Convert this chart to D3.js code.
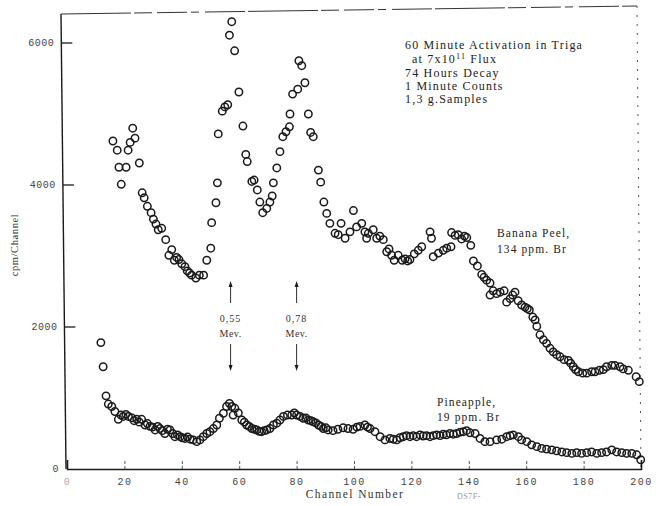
<!DOCTYPE html>
<html>
<head>
<meta charset="utf-8">
<script src="https://cdn.jsdelivr.net/npm/d3@7"></script>
<style>
  body { margin: 0; background: #fff; }
  text { font-family: "Liberation Serif", "DejaVu Serif", serif; }
</style>
</head>
<body>
<svg id="chart" width="656" height="506"></svg>
<script>
// Gamma spectra, 1 minute counts per channel
const bananaChannel = [
  16, 17.5, 18.1, 18.9, 20.6, 21.3, 22, 22.9, 23.7, 25.2, 26.2, 26.9, 28, 29.3, 30.1, 31, 31.8, 33,
  34.4, 35.5, 36.5, 37.4, 38.2, 39, 40, 41.1, 41.9, 42.7, 43.4, 44.9, 46.1, 47.6, 48.7, 50.1, 50.4,
  51.9, 52.4, 52.7, 54.1, 55, 56, 56.6, 57.4, 58.4, 59.9, 61.3, 62.3, 62.8, 64.4, 65.2, 66.3, 67.2,
  68.2, 69.6, 70.7, 71.5, 71.9, 73.1, 74.2, 75.2, 76.3, 77.5, 77.7, 78.6, 80.4, 80.8, 81.8, 82.9,
  84.1, 84.9, 85.8, 87.6, 88.4, 89.5, 90.5, 91.6, 93.4, 94.5, 95.5, 96.9, 98.6, 99.8, 100.9, 102.7,
  103.8, 104.4, 105, 106.7, 107.9, 109, 110.2, 111.4, 112.2, 113.1, 114, 115.4, 116.8, 117.8, 118.7,
  119.5, 121, 122.4, 123.6, 126.5, 127, 127.6, 129.4, 131.1, 132.3, 133.8, 134, 135.2, 136.3, 137.5,
  138.5, 139.3, 140.7, 141.6, 143, 144.5, 145.3, 146.2, 147.4, 147.4, 148.5, 149.7, 150.9, 152.3,
  153.2, 154.4, 155.3, 156.1, 157.2, 158.4, 159.6, 160.4, 161.1, 162.3, 163.1, 163.7, 164.8, 166,
  167.1, 168.3, 169.4, 170.6, 171.8, 173.2, 174.7, 175.5, 176.4, 177.2, 178.2, 179.7, 181.1, 182.8,
  184, 185.5, 186.9, 188, 189.8, 190.9, 192.7, 193.8, 195.6, 198.3, 199.4
];
const bananaCounts = [
  4620, 4490, 4250, 4010, 4250, 4490, 4600, 4800, 4660, 4310, 3890, 3820, 3700, 3610, 3520, 3450, 3370, 3390,
  3230, 3010, 3090, 2940, 2980, 2950, 2890, 2850, 2790, 2760, 2730, 2690, 2730, 2730, 2940, 3110, 3470,
  3750, 4030, 4720, 5040, 5100, 5130, 6110, 6300, 5890, 5310, 4830, 4430, 4330, 4050, 4070, 3930, 3760,
  3610, 3670, 3760, 3845, 4030, 4240, 4470, 4680, 4750, 4820, 5000, 5280, 5350, 5750, 5680, 5440,
  5000, 4740, 4680, 4210, 4040, 3760, 3600, 3460, 3320, 3300, 3460, 3250, 3340, 3640, 3410, 3460,
  3340, 3250, 3320, 3370, 3250, 3280, 3230, 3060, 3100, 3010, 2940, 3010, 2940, 2960, 2930,
  2950, 3030, 3080, 3130, 3340, 3250, 2990, 3040, 3080, 3110, 3130, 3330, 3290, 3300, 3240,
  3280, 3260, 3150, 2930, 2860, 2740, 2700, 2660, 2620, 2450, 2510, 2470, 2490, 2510,
  2350, 2400, 2450, 2490, 2370, 2310, 2280, 2260, 2240, 2140, 2100, 2010, 1890, 1820,
  1770, 1700, 1650, 1610, 1580, 1540, 1530, 1490, 1440, 1400, 1370, 1350, 1350, 1370,
  1370, 1390, 1400, 1440, 1460, 1460, 1440, 1410, 1390, 1300, 1230
];
const pineappleChannel = [
  11.8, 12.6, 13.6, 14.4, 15.6, 16.7, 17.9, 18.8, 19.6, 20.5, 21.4, 22.6, 23.4, 24.3, 25.2, 26, 27.2,
  28, 28.9, 29.8, 30.7, 31.6, 32.4, 33.2, 34.1, 35, 35.9, 36.8, 37.6, 38.5, 39.4, 40.2, 41.1, 42,
  42.9, 44, 45.2, 46.3, 47.5, 48.7, 49.8, 51, 52.2, 53.1, 54.5, 55.6, 56.6, 57.4, 57.9, 58.5, 59.7,
  60.9, 61.8, 62.6, 63.5, 64.4, 65.3, 66.1, 67, 67.8, 68.7, 69.6, 70.7, 71.9, 73.1, 74.2, 75.4, 76.8,
  78.3, 79.2, 80, 81.2, 82.3, 83.2, 84.1, 85, 85.8, 86.7, 87.6, 88.5, 89.3, 90.2, 91, 92.7, 94.4,
  96.2, 97.9, 99.7, 101, 102.1, 103.8, 104.7, 105.6, 107.3, 109.1, 110.8, 112.5, 113.7, 114.9,
  116, 117.2, 118.3, 119.5, 120.6, 121.8, 123, 124.1, 125.3, 126.5, 127.6, 128.8, 130, 131.1, 132.2,
  133.4, 134.6, 135.8, 137, 138.1, 139.2, 140.4, 142.2, 143.9, 145.6, 147.4, 149.7, 151.5, 153.2,
  154.4, 155.5, 157.3, 158.4, 160.2, 161.9, 163.7, 165.4, 167.1, 168.9, 170.6, 172.4, 174.1, 175.9,
  177.6, 179.3, 181.1, 182.8, 184.6, 186.3, 188, 189.8, 191.5, 193.3, 195, 196.8, 198.5, 199.9
];
const pineappleCounts = [
  1780, 1440, 1030, 915, 880, 810, 700, 760, 740, 770, 740, 720, 680, 700, 660, 700, 620,
  640, 600, 590, 550, 600, 570, 540, 500, 560, 550, 500, 455, 480, 455, 440, 430, 450,
  420, 410, 385, 410, 455, 500, 525, 570, 620, 715, 785, 880, 925, 880, 760, 855, 790,
  690, 660, 620, 600, 570, 560, 550, 530, 525, 540, 550, 570, 620, 645, 690, 740, 760,
  760, 790, 760, 740, 715, 720, 690, 680, 665, 650, 620, 600, 570, 580, 550, 540, 560,
  580, 570, 560, 590, 600, 620, 590, 570, 525, 455, 410, 430, 420, 410,
  440, 455, 470, 455, 470, 455, 480, 465, 470, 455, 470, 480, 470, 490, 480,
  500, 490, 500, 520, 525, 540, 510, 500, 430, 385, 385, 410, 420, 455,
  470, 480, 455, 410, 385, 340, 315, 290, 280, 270, 255, 240, 230, 220,
  230, 220, 230, 240, 220, 230, 240, 270, 240, 230, 220, 220, 200, 130
];

const xTicks = [0, 20, 40, 60, 80, 100, 120, 140, 160, 180, 200];
const yTicks = [0, 2000, 4000, 6000];
const noteLines = ["60 Minute Activation in Triga", "at 7x10", "74 Hours Decay", "1 Minute Counts", "1,3 g.Samples"];
const peakChannels = [57, 80];
const peakEnergies = ["0,55", "0,78"];
const seriesLabels = [["Banana Peel,", "134 ppm. Br"], ["Pineapple,", "19 ppm. Br"]];

const svg = d3.select("#chart");
const x = d3.scaleLinear().domain([0, 200]).range([67, 641]);
const y = d3.scaleLinear().domain([0, 6000]).range([469, 43]);
const ink = "#1a1a1a";

// the drawn frame leans slightly: left edge drifts left toward the top
const lean = py => -5 * (y(0) - py) / (y(0) - 14);

// plot frame: dashed top and right edges, solid left edge
svg.append("line")
  .attr("x1", x(0) - 1 + lean(14)).attr("x2", x(200) - 4)
  .attr("y1", 14).attr("y2", 6)
  .attr("stroke", "#333").attr("stroke-width", 1)
  .attr("stroke-dasharray", "70,3,18,5,30,4,8,6,40,3");
svg.append("line")
  .attr("x1", x(200) - 4).attr("x2", x(200))
  .attr("y1", 6).attr("y2", y(0))
  .attr("stroke", "#555").attr("stroke-width", 1)
  .attr("stroke-dasharray", "2,7");
svg.append("line")
  .attr("x1", x(0) - 1).attr("x2", x(0) - 1 + lean(14))
  .attr("y1", y(0)).attr("y2", 14)
  .attr("stroke", ink).attr("stroke-width", 1.4);

// x axis
const xAxis = svg.append("g")
  .attr("transform", `translate(0,${y(0)})`)
  .call(d3.axisBottom(x).tickValues(xTicks).tickSize(-9).tickPadding(9).tickFormat(d3.format("d")));
xAxis.select(".domain").attr("stroke", ink).attr("stroke-width", 1.6);
xAxis.selectAll(".tick line")
  .attr("stroke", "#555").attr("stroke-dasharray", "3,2")
  .filter(d => d === 0 || d === 200).remove();
xAxis.selectAll(".tick text")
  .attr("fill", "#444").style("font-family", "Liberation Mono, monospace")
  .style("font-size", "10px").style("letter-spacing", "1.5px")
  .attr("opacity", d => d === 0 ? 0.45 : 1);

// y axis
const yAxis = svg.append("g")
  .attr("transform", `translate(${x(0) - 1},0)`)
  .call(d3.axisLeft(y).tickValues(yTicks).tickSize(-11).tickPadding(7).tickFormat(d3.format("d")));
yAxis.select(".domain").remove();
yAxis.selectAll(".tick").attr("transform", d => `translate(${lean(y(d))},${y(d)})`);
yAxis.selectAll(".tick line").attr("stroke", ink).attr("stroke-width", 1.3)
  .filter(d => d === 0).remove();
yAxis.selectAll(".tick text")
  .attr("fill", "#444").style("font-family", "Liberation Mono, monospace")
  .style("font-size", "10px").style("letter-spacing", "0.5px");

// axis titles
svg.append("text")
  .attr("transform", `translate(18,245) rotate(-90)`)
  .attr("text-anchor", "middle").attr("fill", "#333")
  .style("font-size", "10.5px").style("letter-spacing", "0.6px")
  .text("cpm/Channel");
svg.append("text")
  .attr("x", 355).attr("y", 498).attr("text-anchor", "middle").attr("fill", "#333")
  .style("font-size", "11.5px").style("letter-spacing", "1.4px")
  .text("Channel Number");
svg.append("text")
  .attr("x", 457).attr("y", 499).attr("fill", "#999")
  .style("font-size", "8px").style("letter-spacing", "0.5px")
  .text("DS7F-");

// run conditions
const notes = svg.append("g").attr("fill", "#222")
  .style("font-size", "12px").style("letter-spacing", "1.2px");
const noteX = [405, 412, 405, 405, 405];
const noteY = [49, 63, 77, 90, 103];
noteLines.forEach((t, i) => {
  const tx = notes.append("text").attr("x", noteX[i]).attr("y", noteY[i]);
  if (i === 1) {
    tx.append("tspan").text(t);
    tx.append("tspan").attr("dy", -4).style("font-size", "8px").text("11");
    tx.append("tspan").attr("dy", 4).text(" Flux");
  } else {
    tx.text(t);
  }
});

// series labels
const labelPos = [[497, 237, 253], [437, 406, 421]];
seriesLabels.forEach((lines, i) => {
  lines.forEach((t, j) => {
    svg.append("text")
      .attr("x", labelPos[i][0]).attr("y", labelPos[i][1 + j])
      .attr("fill", "#222").style("font-size", "11.5px").style("letter-spacing", "1.1px")
      .text(t);
  });
});

// photopeak energy markers
const arrowTop = 281, arrowBottom = 371;
peakChannels.forEach((c, i) => {
  const px = x(c);
  const g = svg.append("g").attr("stroke", ink).attr("fill", ink);
  g.append("line").attr("x1", px).attr("x2", px).attr("y1", arrowTop + 4).attr("y2", 303).attr("stroke-width", 0.9);
  g.append("path").attr("d", `M${px},${arrowTop} l-2,6 l4,0 z`).attr("stroke", "none");
  g.append("line").attr("x1", px).attr("x2", px).attr("y1", 344).attr("y2", arrowBottom - 4).attr("stroke-width", 0.9);
  g.append("path").attr("d", `M${px},${arrowBottom} l-2,-6 l4,0 z`).attr("stroke", "none");
  svg.append("text").attr("x", px).attr("y", 322).attr("text-anchor", "middle")
    .attr("fill", "#333").style("font-size", "10px").style("letter-spacing", "1px")
    .text(peakEnergies[i]);
  svg.append("text").attr("x", px).attr("y", 337).attr("text-anchor", "middle")
    .attr("fill", "#333").style("font-size", "10px").style("letter-spacing", "0.5px")
    .text("Mev.");
});

// data points
function drawSeries(ch, counts) {
  svg.append("g")
    .selectAll("circle")
    .data(ch.map((c, i) => [c, counts[i]]))
    .join("circle")
    .attr("cx", d => x(d[0]))
    .attr("cy", d => y(d[1]))
    .attr("r", 3.7)
    .attr("fill", "none")
    .attr("stroke", ink)
    .attr("stroke-width", 1.5);
}
drawSeries(bananaChannel, bananaCounts);
drawSeries(pineappleChannel, pineappleCounts);
</script>
</body>
</html>
